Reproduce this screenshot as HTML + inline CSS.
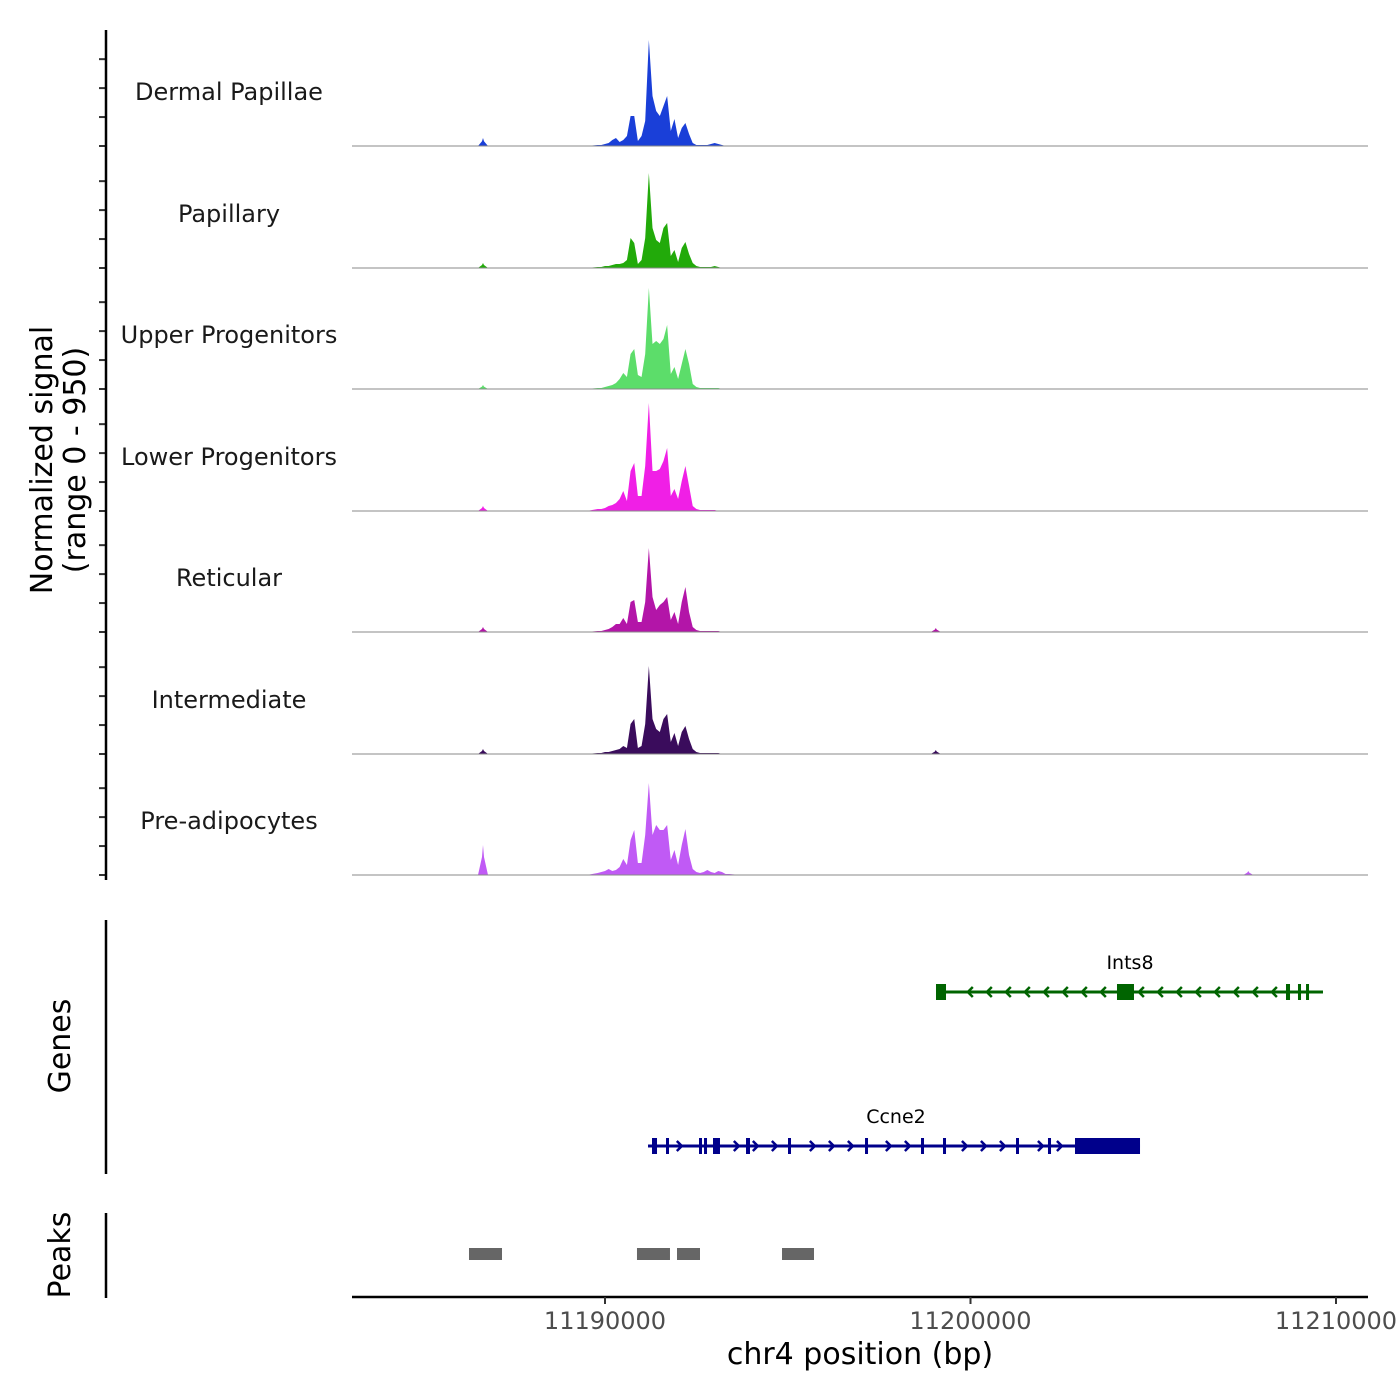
<!DOCTYPE html>
<html><head><meta charset="utf-8"><style>
html,body{margin:0;padding:0;background:#fff;}
svg{display:block;font-family:"DejaVu Sans","Liberation Sans",sans-serif;}
</style></head><body>
<svg id="chart" width="1400" height="1400" viewBox="0 0 1400 1400"></svg>
<script>
// ---- data ----
const trackNames = ["Dermal Papillae","Papillary","Upper Progenitors","Lower Progenitors","Reticular","Intermediate","Pre-adipocytes"];
const trackColors = ["#1a3fd8","#22aa0a","#5cdd6a","#f01fe6","#b315a8","#3a0c5c","#c05af5"];
const binStart = 11189800;
const binSize = 100;
const sigDermal = [9,9,17,26,52,69,35,52,86,259,259,43,86,216,916,432,302,259,346,432,130,233,69,156,199,104,26,9,9,9,9,17,26,17,9,0,0];
const sigPapillary = [9,9,17,17,26,35,35,43,69,259,216,35,69,259,821,346,242,216,346,389,104,156,52,173,225,121,43,17,9,9,9,9,17,9,0,0,0];
const sigUpper = [9,9,17,26,35,52,86,138,104,302,346,121,104,302,873,389,415,389,432,553,130,190,86,216,346,216,43,17,9,9,9,9,9,9,0,0,0];
const sigLower = [17,17,26,43,52,69,104,173,86,346,415,130,130,389,933,346,346,363,432,544,130,190,104,259,389,216,43,17,9,9,9,9,9,0,0,0,0];
const sigReticular = [9,9,17,26,43,69,69,121,69,259,276,86,86,259,726,302,190,233,259,302,104,173,69,259,389,173,43,17,9,9,9,9,9,9,0,0,0];
const sigIntermediate = [9,9,17,17,26,35,43,69,52,259,302,52,69,259,760,302,216,190,302,346,104,181,69,190,242,130,43,17,9,9,9,9,9,9,0,0,0];
const sigPreadipocytes = [17,26,35,52,35,43,69,138,86,302,389,104,104,346,795,346,432,389,389,432,130,216,86,259,397,173,52,26,17,26,43,26,17,35,26,9,9];
const signals = [sigDermal,sigPapillary,sigUpper,sigLower,sigReticular,sigIntermediate,sigPreadipocytes];
const minorPos = [11186662, 11199050, 11207600];
const minorDermal = [69,0,0];
const minorPapillary = [43,0,0];
const minorUpper = [35,0,0];
const minorLower = [43,0,0];
const minorReticular = [43,35,0];
const minorIntermediate = [43,35,0];
const minorPreadipocytes = [259,0,35];
const minors = [minorDermal,minorPapillary,minorUpper,minorLower,minorReticular,minorIntermediate,minorPreadipocytes];
const xTicks = [11190000,11200000,11210000];
const yTicks = [0,250,500,750];
const ints8Span = [11199111,11209644];
const ints8Exons = [[11199056,11199330],[11204008,11204473],[11208632,11208742],[11208960,11209043],[11209180,11209262]];
const ccne2Span = [11191177,11204638];
const ccne2Exons = [[11191286,11191423],[11191669,11191751],[11192572,11192654],[11192709,11192791],[11192955,11193146],[11193858,11193967],[11195007,11195089],[11197114,11197196],[11198646,11198728],[11199248,11199330],[11201245,11201327],[11202120,11202203],[11202859,11204638]];
const peakRegions = [[11186279,11187182],[11190875,11191778],[11191970,11192599],[11194843,11195718]];

// ---- scales ----
const X0 = 352, X1 = 1368;
const bpPerPx = 27.36;
function xs(bp){ return 605 + (bp - 11190000)/bpPerPx; }
const baselines = [146,268,389,511,632,754,875];
const trackH = 110, yMax = 950;
function ys(v, base){ return base - v*trackH/yMax; }

const NS = "http://www.w3.org/2000/svg";
const svg = document.getElementById('chart');
function mk(tag, attrs, parent){ const e=document.createElementNS(NS,tag); for(const k in attrs) e.setAttribute(k,attrs[k]); (parent||svg).appendChild(e); return e; }

// tracks
signals.forEach((sig, t) => {
  const base = baselines[t];
  const g = mk('g',{});
  
  
  let d = `M${X0},${base} L${xs(binStart-300)},${base} `;
  sig.forEach((v,i) => { d += `L${xs(binStart+i*binSize).toFixed(2)},${ys(v,base).toFixed(2)} `; });
  d += `L${xs(binStart+sig.length*binSize+200)},${base} Z`;
  const area = mk('path',{d:d, fill:trackColors[t]}, g);
  
  
  minors[t].forEach((v,j) => {
    if(!v) return;
    const c = xs(minorPos[j]);
    const p = mk('path',{d:`M${c-5},${base} L${c-1},${ys(v*0.6,base)} L${c},${ys(v,base)} L${c+1},${ys(v*0.6,base)} L${c+5},${base} Z`, fill:trackColors[t]}, g);
    
    
  });
  const bl = mk('line',{x1:X0,x2:X1,y1:base,y2:base,stroke:'#888','stroke-width':1}, g);
  
  
  const lab = mk('text',{x:229,y:base-46,'text-anchor':'middle','font-size':24,fill:'#1a1a1a'}, g);
  lab.textContent = trackNames[t];
  
  
  yTicks.forEach(v => {
    const tk = mk('line',{x1:99,x2:106,y1:ys(v,base),y2:ys(v,base),stroke:'#333','stroke-width':2}, g);
    
    
  });
});
const ya = mk('line',{x1:106,x2:106,y1:30,y2:880,stroke:'#000','stroke-width':2.5});


const yt = mk('text',{transform:'translate(52,460) rotate(-90)','text-anchor':'middle','font-size':30,fill:'#000'});


const t1 = mk('tspan',{x:0,dy:0}, yt); t1.textContent = 'Normalized signal';
const t2 = mk('tspan',{x:0,dy:33}, yt); t2.textContent = '(range 0 - 950)';

// genes
function drawGene(name, span, exons, y, color, dir, labelX){
  const g = mk('g',{});
  
  
  mk('line',{x1:xs(span[0]),x2:xs(span[1]),y1:y,y2:y,stroke:color,'stroke-width':3}, g);
  for(let bp = span[0]+350; bp < span[1]-200; bp += 520){
    const inEx = exons.some(e => bp > e[0]-150 && bp < e[1]+150);
    if(inEx) continue;
    const x = xs(bp);
    const d = dir > 0 ? `M${x-3},${y-5} L${x+2},${y} L${x-3},${y+5}` : `M${x+3},${y-5} L${x-2},${y} L${x+3},${y+5}`;
    mk('path',{d:d,fill:'none',stroke:color,'stroke-width':2.5}, g);
  }
  exons.forEach(e => {
    const r = mk('rect',{x:xs(e[0]),y:y-8,width:Math.max(3,xs(e[1])-xs(e[0])),height:16,fill:color}, g);
    
    
  });
  const lab = mk('text',{x:labelX,y:y-23,'text-anchor':'middle','font-size':19,fill:'#000'}, g);
  lab.textContent = name;
  
  
}
drawGene('Ints8', ints8Span, ints8Exons, 992, '#006400', -1, 1130);
drawGene('Ccne2', ccne2Span, ccne2Exons, 1146, '#00008b', 1, 896);
const ga = mk('line',{x1:106,x2:106,y1:920,y2:1174,stroke:'#000','stroke-width':2.5});


const gt = mk('text',{transform:'translate(70,1046) rotate(-90)','text-anchor':'middle','font-size':30,fill:'#000'});
gt.textContent = 'Genes';



// peaks
peakRegions.forEach(p => {
  const r = mk('rect',{x:xs(p[0]),y:1248,width:xs(p[1])-xs(p[0]),height:12,fill:'#666'});
  
  
});
const pa = mk('line',{x1:106,x2:106,y1:1213,y2:1298,stroke:'#000','stroke-width':2.5});


const pt = mk('text',{transform:'translate(70,1255) rotate(-90)','text-anchor':'middle','font-size':30,fill:'#000'});
pt.textContent = 'Peaks';



// x axis
const xa = mk('line',{x1:X0,x2:X1,y1:1297,y2:1297,stroke:'#000','stroke-width':2.5});


xTicks.forEach(v => {
  const x = xs(v);
  const tk = mk('line',{x1:x,x2:x,y1:1297,y2:1304,stroke:'#333','stroke-width':2});
  
  
  const tl = mk('text',{x:x,y:1329,'text-anchor':'middle','font-size':24,fill:'#4d4d4d'});
  tl.textContent = String(v);
  
  
});
const xt = mk('text',{x:860,y:1364,'text-anchor':'middle','font-size':30,fill:'#000'});
xt.textContent = 'chr4 position (bp)';


</script>
</body></html>
